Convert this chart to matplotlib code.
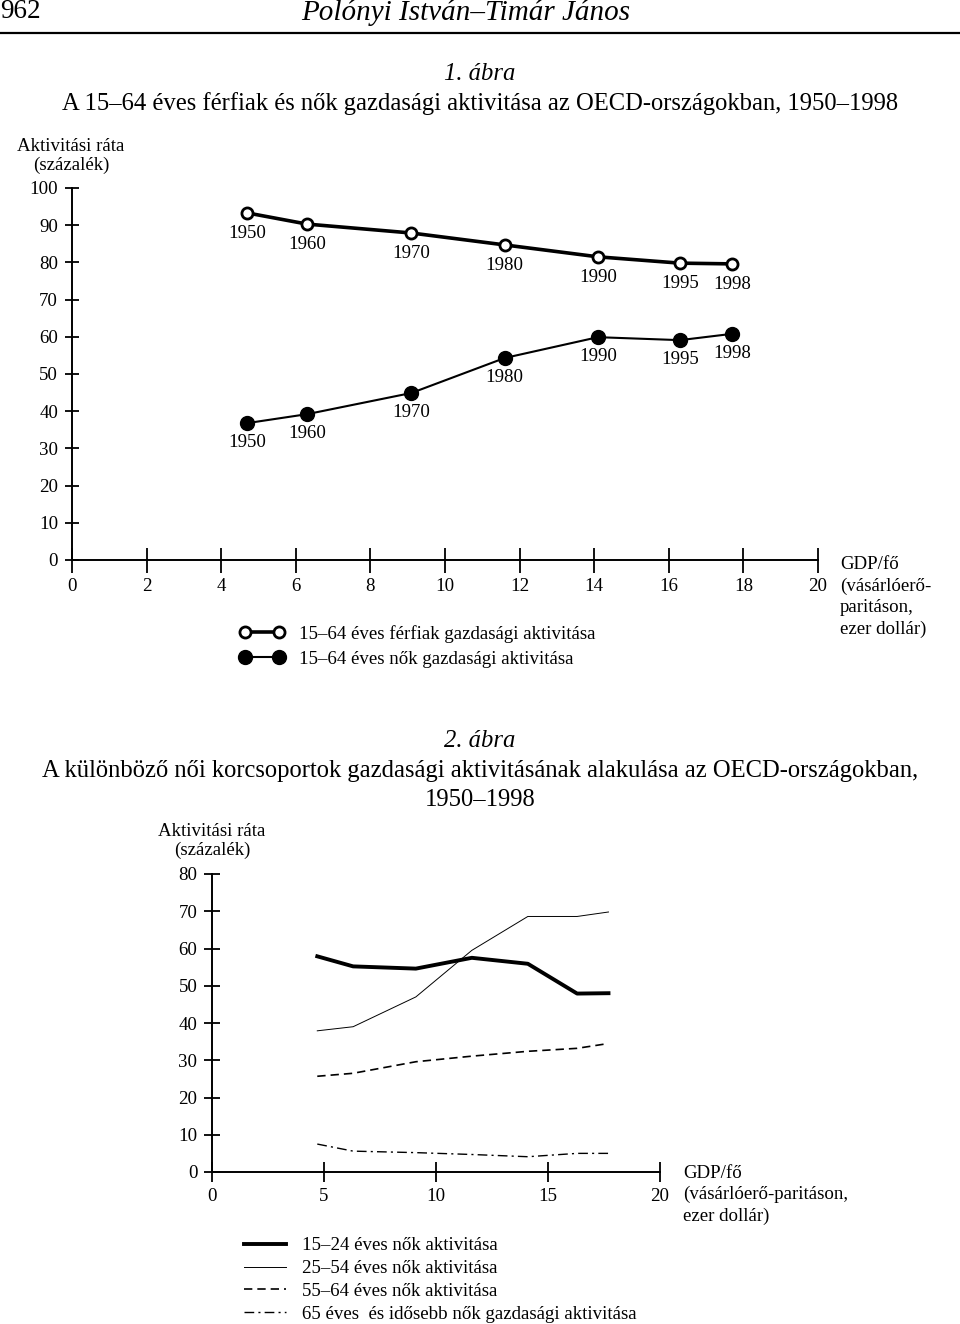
import matplotlib.pyplot as plt
from matplotlib.lines import Line2D

plt.rcParams['font.family'] = ['Liberation Serif', 'DejaVu Serif']

# 1. ábra
years = ["1950", "1960", "1970", "1980", "1990", "1995", "1998"]
gdp = [4.7, 6.3, 9.1, 11.6, 14.1, 16.3, 17.7]
men_rate = [93.3, 90.3, 87.9, 84.7, 81.5, 79.8, 79.6]
women_rate = [36.8, 39.2, 44.9, 54.3, 59.9, 59.1, 60.8]

# 2. ábra
age_15_24 = [57.9, 55.2, 54.6, 57.5, 55.9, 47.9, 48.0]
age_25_54 = [37.9, 39.0, 47.0, 59.5, 68.6, 68.6, 69.8]
age_55_64 = [25.7, 26.5, 29.6, 31.1, 32.4, 33.2, 34.5]
age_65_plus = [7.5, 5.6, 5.2, 4.7, 4.1, 5.0, 5.0]

W, H = 960, 1324
FS = 13.6


def fx(px):
    return px / W


def fy(py):
    return 1 - py / H


def style_axes(ax, ylen, xlen):
    for s in ["top", "right"]:
        ax.spines[s].set_visible(False)
    for s in ["left", "bottom"]:
        ax.spines[s].set_linewidth(1.4)
    ax.tick_params(axis="y", direction="inout", length=ylen, width=1.3,
                   labelsize=FS, pad=5)
    ax.tick_params(axis="x", direction="inout", length=xlen, width=1.3,
                   labelsize=FS, pad=4)
    ax.patch.set_alpha(0)


fig = plt.figure(figsize=(9.6, 13.24), dpi=100)

# page header
fig.text(0.0, fy(12), "962", fontsize=19.5, ha="left", va="center")
fig.text(0.485, fy(12), "Polónyi István–Timár János", fontsize=21,
         style="italic", ha="center", va="center")
fig.add_artist(Line2D([0, 1], [fy(33), fy(33)], color="black", lw=1.6,
                      transform=fig.transFigure))

# ---- chart 1 ----
fig.text(0.5, fy(74), "1. ábra", fontsize=17.7, style="italic",
         ha="center", va="center")
fig.text(0.5, fy(104),
         "A 15–64 éves férfiak és nők gazdasági aktivitása az OECD-országokban, 1950–1998",
         fontsize=17.7, ha="center", va="center")

ax1 = fig.add_axes([fx(72), fy(560), fx(818) - fx(72), fy(188) - fy(560)])
ax1.plot(gdp, men_rate, color="black", lw=2.6, marker="o", ms=8,
         mfc="white", mec="black", mew=2, clip_on=False,
         label="15–64 éves férfiak gazdasági aktivitása")
ax1.plot(gdp, women_rate, color="black", lw=1.5, marker="o", ms=10,
         mfc="black", mec="black", clip_on=False,
         label="15–64 éves nők gazdasági aktivitása")
for x, y, lab in zip(gdp, men_rate, years):
    ax1.annotate(lab, (x, y), xytext=(0, -15), textcoords="offset points",
                 ha="center", va="center", fontsize=FS)
for x, y, lab in zip(gdp, women_rate, years):
    ax1.annotate(lab, (x, y), xytext=(0, -14), textcoords="offset points",
                 ha="center", va="center", fontsize=FS)
ax1.set_xlim(0, 20)
ax1.set_ylim(0, 100)
ax1.set_xticks(range(0, 21, 2))
ax1.set_yticks(range(0, 101, 10))
style_axes(ax1, 10, 18)

fig.text(fx(71), fy(156), "Aktivitási ráta\n(százalék)", fontsize=FS,
         ha="center", va="center", multialignment="center")
fig.text(fx(840), fy(556), "GDP/fő\n(vásárlóerő-\nparitáson,\nezer dollár)",
         fontsize=FS, ha="left", va="top", linespacing=1.33)
fig.legend(handles=ax1.get_lines(), loc="upper left",
           bbox_to_anchor=(fx(239), fy(625)), frameon=False, fontsize=FS,
           numpoints=2, handlelength=2.4, handletextpad=0.8,
           labelspacing=0.4, borderpad=0, borderaxespad=0)

# ---- chart 2 ----
fig.text(0.5, fy(741), "2. ábra", fontsize=17.7, style="italic",
         ha="center", va="center")
fig.text(0.5, fy(771),
         "A különböző női korcsoportok gazdasági aktivitásának alakulása az OECD-országokban,",
         fontsize=17.7, ha="center", va="center")
fig.text(0.5, fy(800), "1950–1998", fontsize=17.7, ha="center", va="center")

ax2 = fig.add_axes([fx(212), fy(1172), fx(660) - fx(212), fy(874) - fy(1172)])
l1, = ax2.plot(gdp, age_15_24, color="black", lw=2.8,
               label="15–24 éves nők aktivitása")
l2, = ax2.plot(gdp, age_25_54, color="black", lw=0.7,
               label="25–54 éves nők aktivitása")
l3, = ax2.plot(gdp, age_55_64, color="black", lw=1.2, ls=(0, (5, 3)),
               label="55–64 éves nők aktivitása")
l4, = ax2.plot(gdp, age_65_plus, color="black", lw=1.0,
               ls=(0, (7, 3, 1.5, 3)),
               label="65 éves  és idősebb nők gazdasági aktivitása")
ax2.set_xlim(0, 20)
ax2.set_ylim(0, 80)
ax2.set_xticks(range(0, 21, 5))
ax2.set_yticks(range(0, 81, 10))
style_axes(ax2, 11, 15)

fig.text(fx(212), fy(841), "Aktivitási ráta\n(százalék)", fontsize=FS,
         ha="center", va="center", multialignment="center")
fig.text(fx(683), fy(1165), "GDP/fő\n(vásárlóerő-paritáson,\nezer dollár)",
         fontsize=FS, ha="left", va="top", linespacing=1.3)
fig.legend(handles=[l1, l2, l3, l4], loc="upper left",
           bbox_to_anchor=(fx(244), fy(1237)), frameon=False, fontsize=FS,
           handlelength=2.2, handletextpad=0.85, labelspacing=0.3,
           borderpad=0, borderaxespad=0)

fig.savefig("out.png", dpi=100)
